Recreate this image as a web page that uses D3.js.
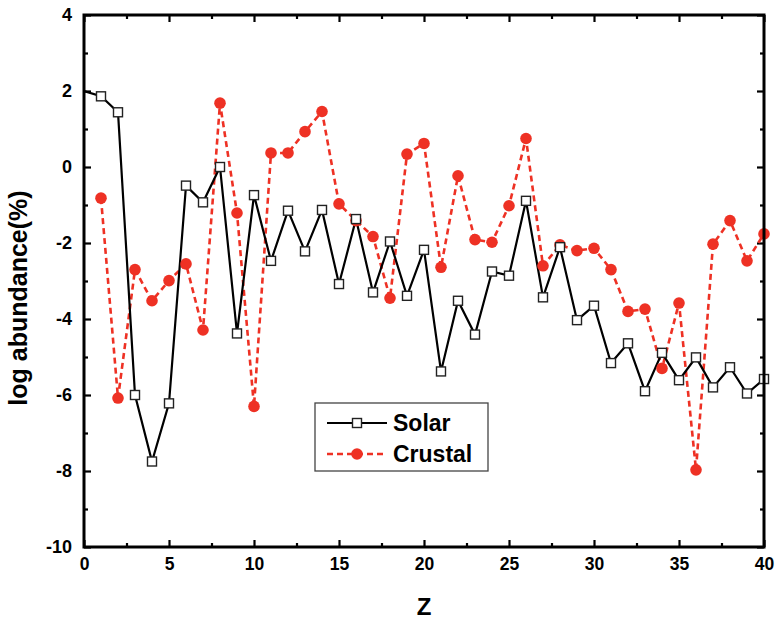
<!DOCTYPE html>
<html><head><meta charset="utf-8">
<script src="https://cdn.jsdelivr.net/npm/d3@7"></script>
<style>body{margin:0;background:#fff}svg{display:block}text{font-family:"Liberation Sans",Arial,sans-serif;font-weight:bold}</style>
</head><body>
<svg id="c" width="778" height="622"></svg>
<script>
const Z = d3.range(1, 41);
const solar = [1.86,1.44,-6.0,-7.75,-6.22,-0.49,-0.93,0.0,-4.38,-0.74,
  -2.47,-1.15,-2.22,-1.13,-3.08,-1.37,-3.30,-1.96,-3.39,-2.18,
  -5.38,-3.52,-4.41,-2.75,-2.86,-0.89,-3.43,-2.11,-4.03,-3.65,
  -5.16,-4.64,-5.90,-4.89,-5.61,-5.01,-5.80,-5.27,-5.96,-5.58];
const solarStart = 2.0; // line enters from Z=0
const crustal = [-0.82,-6.08,-2.70,-3.52,-2.99,-2.55,-4.29,1.68,-1.21,-6.30,
  0.37,0.37,0.93,1.46,-0.97,-1.41,-1.83,-3.45,0.34,0.62,
  -2.64,-0.23,-1.91,-1.98,-1.02,0.75,-2.60,-2.05,-2.20,-2.14,
  -2.70,-3.80,-3.74,-5.30,-3.58,-7.97,-2.03,-1.41,-2.47,-1.76];
const xTicks = [0,5,10,15,20,25,30,35,40];
const yTicks = [4,2,0,-2,-4,-6,-8,-10];
const seriesNames = ["Solar","Crustal"];

const svg = d3.select("#c");
const L=84, R=764, T=15, B=547;
const x = d3.scaleLinear().domain([0,40]).range([L,R]);
const y = d3.scaleLinear().domain([-10,4]).range([B,T]);
const red = "#ee3124";
const fmt = v => String(v); // plain hyphen-minus like the original

svg.append("defs").append("clipPath").attr("id","clip")
  .append("rect").attr("x",L).attr("y",T).attr("width",R-L).attr("height",B-T);

const maj = 7, mnr = 4;
const xMinor = d3.range(0,40.01,2.5).filter(v=>v%5!==0);
const yMinor = d3.range(-10,4.01,1).filter(v=>v%2!==0);
function tickAxis(axisFn, scale, vals, len, tr){
  const g = svg.append("g").attr("transform",tr)
    .call(axisFn(scale).tickValues(vals).tickSize(len).tickFormat(""));
  g.select(".domain").remove();
  g.selectAll("line").attr("stroke","#000").attr("stroke-width",2.2);
  return g;
}
tickAxis(d3.axisTop, x, xTicks, maj, `translate(0,${B})`);
tickAxis(d3.axisTop, x, xMinor, mnr, `translate(0,${B})`);
tickAxis(d3.axisBottom, x, xTicks, maj, `translate(0,${T})`);
tickAxis(d3.axisBottom, x, xMinor, mnr, `translate(0,${T})`);
tickAxis(d3.axisRight, y, yTicks, maj, `translate(${L},0)`);
tickAxis(d3.axisRight, y, yMinor, mnr, `translate(${L},0)`);
tickAxis(d3.axisLeft, y, yTicks, maj, `translate(${R},0)`);
tickAxis(d3.axisLeft, y, yMinor, mnr, `translate(${R},0)`);

const gx = svg.append("g").attr("transform",`translate(0,${B})`)
  .call(d3.axisBottom(x).tickValues(xTicks).tickSize(0).tickPadding(11).tickFormat(fmt));
gx.select(".domain").remove();
gx.selectAll("text").attr("font-size",17.5).attr("fill","#000")
  .attr("font-family","Liberation Sans,Arial,sans-serif").attr("font-weight","bold");
const gy = svg.append("g").attr("transform",`translate(${L},0)`)
  .call(d3.axisLeft(y).tickValues(yTicks).tickSize(0).tickPadding(12).tickFormat(fmt));
gy.select(".domain").remove();
gy.selectAll("text").attr("font-size",18).attr("fill","#000")
  .attr("font-family","Liberation Sans,Arial,sans-serif").attr("font-weight","bold");

const plot = svg.append("g").attr("clip-path","url(#clip)");
const solarPts = [[0,solarStart]].concat(Z.map((z,i)=>[z,solar[i]]));
const crustPts = Z.map((z,i)=>[z,crustal[i]]);
const line = d3.line().x(d=>x(d[0])).y(d=>y(d[1]));
plot.append("path").attr("d",line(crustPts)).attr("fill","none")
  .attr("stroke",red).attr("stroke-width",2.6).attr("stroke-dasharray","6,4");
plot.append("path").attr("d",line(solarPts)).attr("fill","none")
  .attr("stroke","#000").attr("stroke-width",2.2);
svg.append("g").selectAll("circle").data(crustPts).join("circle")
  .attr("cx",d=>x(d[0])).attr("cy",d=>y(d[1])).attr("r",5.8).attr("fill",red);
const s=9;
svg.append("g").selectAll("rect").data(solarPts.slice(1)).join("rect")
  .attr("x",d=>x(d[0])-s/2).attr("y",d=>y(d[1])-s/2).attr("width",s).attr("height",s)
  .attr("fill","#fff").attr("stroke","#222").attr("stroke-width",1.4);

svg.append("rect").attr("x",L).attr("y",T).attr("width",R-L).attr("height",B-T)
  .attr("fill","none").attr("stroke","#000").attr("stroke-width",3);

svg.append("text").attr("x",x(20)).attr("y",615).attr("text-anchor","middle")
  .attr("font-size",24).text("Z");
svg.append("text").attr("transform",`translate(27,298) rotate(-90)`)
  .attr("text-anchor","middle").attr("font-size",25).text("log abundance(%)");

const lg = svg.append("g");
lg.append("rect").attr("x",315).attr("y",403).attr("width",173).attr("height",68)
  .attr("fill","#fff").attr("stroke","#444").attr("stroke-width",1.3);
lg.append("line").attr("x1",327).attr("x2",387).attr("y1",423).attr("y2",423)
  .attr("stroke","#000").attr("stroke-width",2.2);
lg.append("rect").attr("x",357-4.5).attr("y",423-4.5).attr("width",9).attr("height",9)
  .attr("fill","#fff").attr("stroke","#222").attr("stroke-width",1.4);
lg.append("line").attr("x1",327).attr("x2",387).attr("y1",454).attr("y2",454)
  .attr("stroke",red).attr("stroke-width",2.6).attr("stroke-dasharray","6,4");
lg.append("circle").attr("cx",357).attr("cy",454).attr("r",5.8).attr("fill",red);
lg.selectAll("text.l").data(seriesNames).join("text").attr("class","l")
  .attr("x",393).attr("y",(d,i)=>431+i*31).attr("font-size",23).text(d=>d);
</script>
</body></html>
